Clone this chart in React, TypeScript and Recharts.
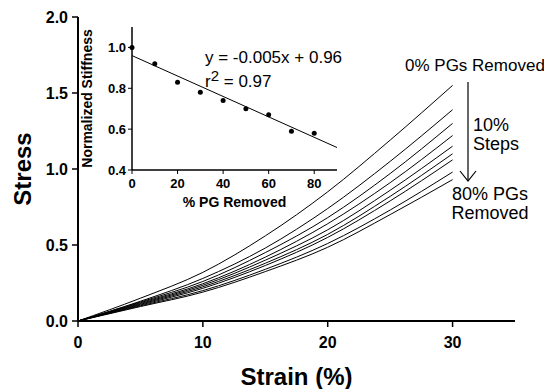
import { LineChart, Line, XAxis, YAxis, ComposedChart, Scatter, Label } from 'recharts'

const strain = [0, 5, 10, 15, 20, 25, 30]
const pgRemoved = ['0', '10', '20', '30', '40', '50', '60', '70', '80']
const stress0 = [0, 0.15, 0.32, 0.56, 0.85, 1.19, 1.55]
const stress10 = [0, 0.13, 0.28, 0.48, 0.74, 1.05, 1.39]
const stress20 = [0, 0.125, 0.26, 0.45, 0.68, 0.97, 1.3]
const stress30 = [0, 0.12, 0.245, 0.42, 0.64, 0.91, 1.22]
const stress40 = [0, 0.115, 0.235, 0.4, 0.6, 0.86, 1.15]
const stress50 = [0, 0.11, 0.225, 0.38, 0.57, 0.82, 1.1]
const stress60 = [0, 0.105, 0.215, 0.365, 0.55, 0.79, 1.06]
const stress70 = [0, 0.1, 0.2, 0.34, 0.51, 0.73, 0.98]
const stress80 = [0, 0.095, 0.19, 0.325, 0.485, 0.7, 0.93]

const pgPercent = [0, 10, 20, 30, 40, 50, 60, 70, 80]
const stiffness = [1.0, 0.92, 0.83, 0.78, 0.74, 0.7, 0.67, 0.59, 0.58]
const fitX = [0, 90]
const fitY = [0.96, 0.51]

const allStress = [stress0, stress10, stress20, stress30, stress40, stress50, stress60, stress70, stress80]
const curveData = strain.map((x, i) => {
  const row: Record<string, number> = { x }
  allStress.forEach((s, k) => { row['pg' + pgRemoved[k]] = s[i] })
  return row
})
const scatterData = pgPercent.map((x, i) => ({ x, y: stiffness[i] }))
const fitData = fitX.map((x, i) => ({ x, y: fitY[i] }))

const font = '"Liberation Sans", Arial, sans-serif'

export default function App() {
  return (
    <div style={{ position: 'absolute', left: 0, top: 0, width: 544, height: 389, background: '#fff', fontFamily: font }}>
      <LineChart width={544} height={389} data={curveData} margin={{ top: 17, right: 29, left: 20, bottom: 0 }}>
        <XAxis
          dataKey="x"
          type="number"
          domain={[0, 35]}
          ticks={[0, 10, 20, 30]}
          height={68}
          stroke="#000"
          axisLine={{ strokeWidth: 2 }}
          tickSize={6}
          tickLine={{ strokeWidth: 1.5 }}
          tick={{ fontSize: 16, fontWeight: 'bold', fill: '#000', fontFamily: font }}
          tickMargin={10}
        >
          <Label value="Strain (%)" position="insideBottom" offset={4} style={{ fontSize: 24, fontWeight: 'bold', fill: '#000', fontFamily: font }} />
        </XAxis>
        <YAxis
          type="number"
          domain={[0, 2]}
          ticks={[0, 0.5, 1, 1.5, 2]}
          tickFormatter={(v: number) => v.toFixed(1)}
          width={58}
          stroke="#000"
          axisLine={{ strokeWidth: 2 }}
          tickSize={6}
          tickLine={{ strokeWidth: 1.5 }}
          tick={{ fontSize: 16, fontWeight: 'bold', fill: '#000', fontFamily: font }}
          tickMargin={4}
        >
          <Label value="Stress" angle={-90} position="insideLeft" offset={2} style={{ fontSize: 24, fontWeight: 'bold', fill: '#000', fontFamily: font, textAnchor: 'middle' }} />
        </YAxis>
        {pgRemoved.map(p => (
          <Line key={p} dataKey={'pg' + p} type="monotone" stroke="#000" strokeWidth={1} dot={false} isAnimationActive={false} />
        ))}
      </LineChart>

      <div style={{ position: 'absolute', left: 75, top: 15 }}>
        <ComposedChart width={270} height={200} margin={{ top: 12, right: 8, left: 0, bottom: 0 }}>
          <XAxis
            dataKey="x"
            type="number"
            domain={[0, 90]}
            ticks={[0, 20, 40, 60, 80]}
            height={45}
            stroke="#000"
            axisLine={{ strokeWidth: 1.5 }}
            tickSize={4}
            tick={{ fontSize: 13, fontWeight: 'bold', fill: '#000', fontFamily: font }}
            tickMargin={5}
          >
            <Label value="% PG Removed" position="insideBottom" offset={8} style={{ fontSize: 14, fontWeight: 'bold', fill: '#000', fontFamily: font }} />
          </XAxis>
          <YAxis
            dataKey="y"
            type="number"
            domain={[0.4, 1.1]}
            ticks={[0.4, 0.6, 0.8, 1.0]}
            tickFormatter={(v: number) => v.toFixed(1)}
            width={57}
            stroke="#000"
            axisLine={{ strokeWidth: 1.5 }}
            tickSize={4}
            tick={{ fontSize: 13, fontWeight: 'bold', fill: '#000', fontFamily: font }}
            tickMargin={2}
          >
            <Label value="Normalized Stiffness" angle={-90} position="insideLeft" offset={12} style={{ fontSize: 14, fontWeight: 'bold', fill: '#000', fontFamily: font, textAnchor: 'middle' }} />
          </YAxis>
          <Line data={fitData} dataKey="y" type="linear" stroke="#000" strokeWidth={1} dot={false} isAnimationActive={false} />
          <Scatter data={scatterData} dataKey="y" fill="#000" shape={(p: any) => <circle cx={p.cx} cy={p.cy} r={2.5} fill="#000" />} isAnimationActive={false} />
        </ComposedChart>
      </div>

      <div style={{ position: 'absolute', left: 205, top: 46, fontSize: 17, lineHeight: '24px', color: '#000' }}>
        <div>y = -0.005x + 0.96</div>
        <div>r<span style={{ fontSize: 15, position: 'relative', top: -6 }}>2</span> = 0.97</div>
      </div>

      <div style={{ position: 'absolute', left: 405, top: 56, fontSize: 17, color: '#000', whiteSpace: 'nowrap' }}>0% PGs Removed</div>
      <div style={{ position: 'absolute', left: 473, top: 116, fontSize: 18, lineHeight: '19px', color: '#000' }}>
        <div>10%</div>
        <div>Steps</div>
      </div>
      <div style={{ position: 'absolute', left: 440, top: 185, width: 100, textAlign: 'center', fontSize: 18, lineHeight: '19px', color: '#000' }}>
        <div>80% PGs</div>
        <div>Removed</div>
      </div>
      <svg style={{ position: 'absolute', left: 0, top: 0 }} width={544} height={389}>
        <line x1={468} y1={82} x2={468} y2={181} stroke="#000" strokeWidth={1.2} />
        <polyline points="460,171 468,181 476,171" fill="none" stroke="#000" strokeWidth={1.2} />
      </svg>
    </div>
  )
}
